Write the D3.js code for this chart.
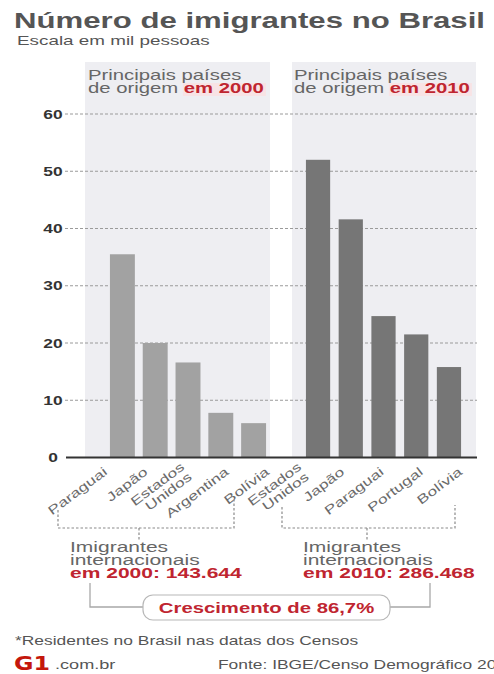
<!DOCTYPE html>
<html><head><meta charset="utf-8">
<script src="https://cdn.jsdelivr.net/npm/d3@7"></script>
<style>html,body{margin:0;padding:0;background:#fff}svg{display:block}</style>
</head><body>
<script>
// ---- data ----
const countries2000 = ["Paraguai", "Japão", "Estados Unidos", "Argentina", "Bolívia"];
const values2000 = [35.5, 20.0, 16.6, 7.8, 6.0];
const countries2010 = ["Estados Unidos", "Japão", "Paraguai", "Portugal", "Bolívia"];
const values2010 = [52.0, 41.6, 24.7, 21.5, 15.8];
const yTicks = [0, 10, 20, 30, 40, 50, 60];
const total2000 = "143.644";
const total2010 = "286.468";
const growth = "86,7%";

const W = 494, H = 674, SX = 1.45;
const FONT = "'Liberation Sans', Arial, sans-serif";
const GRAY = "#5c5c5c", RED = "#bf2530";

const svg = d3.select("body").append("svg").attr("width", W).attr("height", H);
svg.append("rect").attr("width", W).attr("height", H).attr("fill", "#fff");

function txt(x, y, str, o = {}) {
  return svg.append("text")
    .attr("transform", `translate(${x},${y}) scale(${o.sx || SX},1)`)
    .attr("text-anchor", o.anchor || "start")
    .attr("font-family", FONT)
    .attr("font-size", o.size || 12)
    .attr("font-weight", o.weight || "normal")
    .attr("fill", o.fill || GRAY)
    .text(str);
}

// title
txt(14, 28, "Número de imigrantes no Brasil", {size: 21.5, weight: "bold", fill: "#555"});
txt(17, 45, "Escala em mil pessoas", {size: 13, fill: "#555"});

// scales
const y = d3.scaleLinear().domain([0, 60]).range([457.5, 114]);
const x2000 = d3.scaleBand().domain(countries2000).range([106, 270]).paddingInner(0.24).paddingOuter(0.12);
const x2010 = d3.scaleBand().domain(countries2010).range([302, 465]).paddingInner(0.26).paddingOuter(0.12);
const l2000 = d3.scalePoint().domain(countries2000).range([108, 270]);
const l2010 = d3.scalePoint().domain(countries2010).range([306, 463]);

// panels
svg.append("rect").attr("x", 85).attr("y", 62).attr("width", 185).attr("height", y(0) - 62).attr("fill", "#eeeef2");
svg.append("rect").attr("x", 292).attr("y", 62).attr("width", 184).attr("height", y(0) - 62).attr("fill", "#eeeef2");

// panel headers
function header(x, year) {
  txt(x, 80, "Principais países", {size: 14, fill: "#666"});
  const t = txt(x, 93, "de origem ", {size: 14, fill: "#666"});
  const tail = "em " + year;
  t.append("tspan").attr("font-weight", "bold").attr("fill", RED).text(tail);
  const node = t.node();
  const n = node.getNumberOfChars();
  const start = node.getSubStringLength(0, n - tail.length);
  const len = node.getSubStringLength(n - tail.length, tail.length);
  svg.insert("rect", () => node)
    .attr("x", x + start * SX - 1).attr("y", 83).attr("width", len * SX + 3).attr("height", 13)
    .attr("fill", "#f8e3e5");
}
header(88, 2000);
header(294, 2010);

// gridlines
svg.append("g").selectAll("line").data(yTicks.filter(d => d > 0)).join("line")
  .attr("x1", 65).attr("x2", 477).attr("y1", d => y(d)).attr("y2", d => y(d))
  .attr("stroke", "#9a9a9a").attr("stroke-width", 1).attr("stroke-dasharray", "3,2");

// y tick labels
yTicks.forEach(t => txt(53, y(t) + 4.5, String(t), {size: 12, weight: "bold", anchor: "middle", fill: "#333"}));

// bars
svg.append("g").selectAll("rect").data(values2000).join("rect")
  .attr("x", (d, i) => x2000(countries2000[i])).attr("width", x2000.bandwidth())
  .attr("y", d => y(d)).attr("height", d => y(0) - y(d)).attr("fill", "#a2a2a2");
svg.append("g").selectAll("rect").data(values2010).join("rect")
  .attr("x", (d, i) => x2010(countries2010[i])).attr("width", x2010.bandwidth())
  .attr("y", d => y(d)).attr("height", d => y(0) - y(d)).attr("fill", "#767676");

// baseline
svg.append("line").attr("x1", 66).attr("x2", 477).attr("y1", y(0)).attr("y2", y(0))
  .attr("stroke", "#333").attr("stroke-width", 2);

// rotated category labels
function catLabels(cats, scale) {
  cats.forEach(c => {
    const words = c.split(" ");
    const t = svg.append("text")
      .attr("transform", `translate(${scale(c)},${y(0) + 16}) rotate(-37) scale(1.4,1)`)
      .attr("text-anchor", "end").attr("font-family", FONT).attr("font-size", 12.5).attr("fill", "#6a6a6a");
    if (words.length === 1) t.text(c);
    else words.forEach((w, i) => t.append("tspan").attr("x", 0).attr("dy", i === 0 ? "-0.5em" : "1.0em").text(w));
  });
}
catLabels(countries2000, l2000);
catLabels(countries2010, l2010);

// brackets
const dash = {stroke: "#8a8a8a", "stroke-width": 1.2, "stroke-dasharray": "2.5,2", fill: "none"};
function bracket(x1, x2, yl, yr, xm) {
  const p = svg.append("path").attr("d", `M${x1},${yl} V528 H${x2} V${yr} M${xm},528 V540`);
  Object.entries(dash).forEach(([k, v]) => p.attr(k, v));
}
bracket(58, 234, 510, 500, 139);
bracket(282, 455, 507, 505, 367);

// totals
function totals(x, year, val) {
  txt(x, 552, "Imigrantes", {size: 14.5, fill: "#666"});
  txt(x, 565, "internacionais", {size: 14.5, fill: "#666"});
  txt(x, 578, `em ${year}: ${val}`, {size: 14.5, weight: "bold", fill: RED});
}
totals(70, 2000, total2000);
totals(303, 2010, total2010);

// growth box
svg.append("path").attr("d", "M90,583 V607 H143 M430,583 V607 H390").attr("stroke", "#a8a8a8").attr("stroke-width", 1.3).attr("fill", "none");
svg.append("rect").attr("x", 143).attr("y", 595).attr("width", 247).attr("height", 25).attr("rx", 10)
  .attr("fill", "#fff").attr("stroke", "#b8b8b8").attr("stroke-width", 1.2);
txt(266.5, 613, "Crescimento de " + growth, {size: 14, weight: "bold", fill: RED, anchor: "middle"});

// footer
txt(15, 645, "*Residentes no Brasil nas datas dos Censos", {size: 12, fill: "#555"});
svg.append("text").attr("transform", "translate(14,670) scale(1.25,1)")
  .attr("font-family", "'DejaVu Sans', sans-serif").attr("font-weight", "bold").attr("font-size", 19)
  .attr("fill", "#c4170c").text("G1");
txt(55, 669, ".com.br", {size: 12.5, fill: "#555"});
txt(218, 669, "Fonte: IBGE/Censo Demográfico 2010", {size: 12, fill: "#555"});
</script>
</body></html>
